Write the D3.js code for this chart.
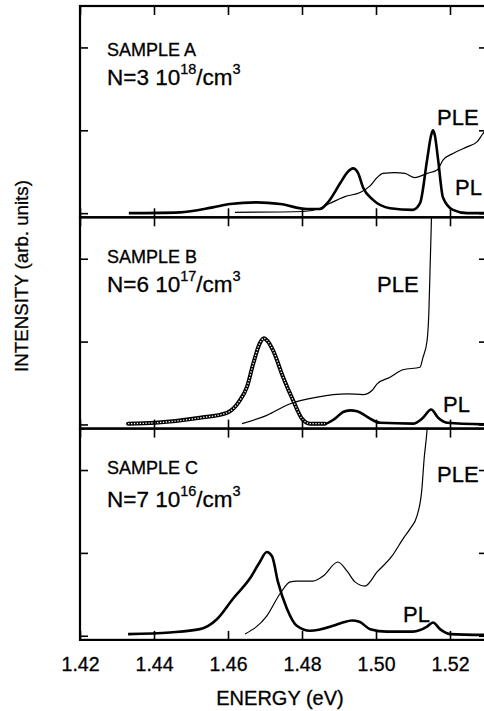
<!DOCTYPE html>
<html><head><meta charset="utf-8">
<script src="https://cdn.jsdelivr.net/npm/d3@7"></script>
<style>
body{margin:0;background:#fff}
svg{display:block}
text{font-family:"Liberation Sans",Arial,Helvetica,sans-serif;fill:#000;stroke:#000;stroke-width:0.3px}
</style>
</head><body>
<svg id="c" width="484" height="711"></svg>
<script>
// ---- tick labels ----
const energyTicks = [1.42, 1.44, 1.46, 1.48, 1.50, 1.52];
const energyTickLabels = ["1.42", "1.44", "1.46", "1.48", "1.50", "1.52"];
const intensityTicks = [0, 1, 2];

// ---- Sample A ----
const plA_E = [1.4332,1.4470,1.4559,1.4605,1.4678,1.4741,1.4814,1.4849,1.4870,1.4903,1.4922,1.4938,1.4951,1.4965,1.4992,1.5038,1.5100,1.5119,1.5138,1.5149,1.5154,1.5159,1.5168,1.5181,1.5208,1.5246,1.5300];
const plA_I = [0.00,0.01,0.07,0.11,0.13,0.11,0.05,0.05,0.13,0.36,0.49,0.54,0.49,0.31,0.16,0.06,0.04,0.12,0.64,0.94,1.00,0.94,0.64,0.19,0.04,0.00,0.00];
const pleA_E = [1.4619,1.4803,1.4849,1.4876,1.4916,1.4957,1.4984,1.5003,1.5019,1.5051,1.5078,1.5105,1.5138,1.5165,1.5181,1.5208,1.5246,1.5273,1.5289,1.5300];
const pleA_I = [0.01,0.02,0.06,0.12,0.20,0.25,0.33,0.43,0.48,0.49,0.48,0.43,0.48,0.52,0.64,0.72,0.80,0.86,0.96,1.02];

// ---- Sample B ----
const plB_E = [1.4330,1.4403,1.4524,1.4597,1.4632,1.4651,1.4668,1.4686,1.4697,1.4708,1.4722,1.4749,1.4776,1.4800,1.4822,1.4862,1.4889,1.4911,1.4930,1.4949,1.4970,1.4984,1.5011,1.5100,1.5127,1.5149,1.5168,1.5192,1.5300];
const plB_I = [0.01,0.02,0.08,0.14,0.29,0.45,0.73,0.98,1.04,1.00,0.89,0.57,0.29,0.07,0.01,0.01,0.07,0.15,0.17,0.16,0.11,0.07,0.02,0.01,0.08,0.18,0.08,0.02,0.00];
const pleB_E = [1.4638,1.4705,1.4768,1.4841,1.4884,1.4922,1.4965,1.4989,1.5003,1.5038,1.5073,1.5119,1.5127,1.5138,1.5143,1.5146,1.5149,1.5151];
const pleB_I = [0.01,0.11,0.25,0.33,0.36,0.37,0.36,0.41,0.49,0.57,0.66,0.69,0.81,1.01,1.37,1.86,2.34,2.70];

// ---- Sample C ----
const plC_E = [1.4330,1.4443,1.4524,1.4570,1.4614,1.4659,1.4686,1.4705,1.4719,1.4735,1.4759,1.4786,1.4822,1.4884,1.4910,1.4935,1.4955,1.4984,1.5030,1.5100,1.5138,1.5154,1.5173,1.5200,1.5300];
const plC_I = [0.02,0.04,0.08,0.20,0.45,0.69,0.89,1.01,0.96,0.65,0.33,0.12,0.06,0.12,0.16,0.185,0.17,0.08,0.05,0.05,0.11,0.16,0.08,0.02,0.01];
const pleC_E = [1.4646,1.4705,1.4741,1.4768,1.4786,1.4830,1.4857,1.4897,1.4922,1.4943,1.4970,1.5003,1.5043,1.5073,1.5092,1.5111,1.5124,1.5130,1.5138,1.5141];
const pleC_I = [0.02,0.24,0.51,0.65,0.66,0.66,0.72,0.89,0.78,0.65,0.60,0.77,0.96,1.17,1.29,1.45,1.77,2.13,2.49,2.70];

const sampleNames = ["SAMPLE A", "SAMPLE B", "SAMPLE C"];
const densityMantissa = ["N=3 10", "N=6 10", "N=7 10"];
const densityExponent = ["18", "17", "16"];

// ---- layout ----
const svg = d3.select("#c");
const left = 80, right = 487, top0 = 6, ph = 211.3;
const x = d3.scaleLinear().domain([1.42, 1.53]).range([left, right]);

const series = [
  {pl: [plA_E, plA_I], ple: [pleA_E, pleA_I]},
  {pl: [plB_E, plB_I], ple: [pleB_E, pleB_I], fit: 1.4875},
  {pl: [plC_E, plC_I], ple: [pleC_E, pleC_I]}
];
const labelLayout = [
  {s: 49.5, n: 79, ple: [437, 119], pl: [455, 189]},
  {s: 46, n: 75, ple: [377, 75], pl: [443, 194.5]},
  {s: 45.5, n: 78.5, ple: [437, 53], pl: [403, 193.5]}
];

series.forEach((p, i) => {
  const t = top0 + i * ph, b = t + ph;
  const y = d3.scaleLinear().domain([-0.05, 2.5]).range([b, t]);
  const g = svg.append("g");
  const cid = "clip" + i;
  svg.append("clipPath").attr("id", cid).append("rect")
    .attr("x", left).attr("y", t).attr("width", right - left).attr("height", ph);
  const pg = g.append("g").attr("clip-path", `url(#${cid})`);
  const line = d3.line().x(d => x(d[0])).y(d => y(d[1])).curve(d3.curveMonotoneX);
  const plPts = p.pl[0].map((e, k) => [e, p.pl[1][k]]);
  const plePts = p.ple[0].map((e, k) => [e, p.ple[1][k]]);
  pg.append("path").attr("d", line(plePts)).attr("fill", "none")
    .attr("stroke", "#000").attr("stroke-width", 1.2).attr("stroke-linejoin", "round");
  pg.append("path").attr("d", line(plPts)).attr("fill", "none")
    .attr("stroke", "#000").attr("stroke-width", 2.6).attr("stroke-linejoin", "round");
  if (p.fit) {
    const fitPts = plPts.filter(d => d[0] <= p.fit);
    pg.append("path").attr("d", line(fitPts)).attr("fill", "none")
      .attr("stroke", "#000").attr("stroke-width", 4).attr("stroke-linecap", "round");
    pg.append("path").attr("d", line(fitPts)).attr("fill", "none")
      .attr("stroke", "#fff").attr("stroke-width", 1.3).attr("stroke-dasharray", "1.3,1.6");
  }
  // axes (inward ticks)
  const ax = (gen, tr) => {
    const a = g.append("g").attr("transform", tr).call(gen);
    a.select(".domain").remove();
    a.selectAll("line").attr("stroke", "#000").attr("stroke-width", 1.6);
    return a;
  };
  ax(d3.axisTop(x).tickValues(energyTicks).tickSize(-9).tickFormat(""), `translate(0,${t})`);
  const bot = ax(d3.axisBottom(x).tickValues(energyTicks).tickSize(-9)
    .tickFormat((d, k) => i === 2 ? energyTickLabels[k] : ""), `translate(0,${b})`);
  if (i === 2) {
    bot.selectAll("text").attr("y", 31).attr("dy", 0).attr("font-size", 19.5)
      .attr("font-family", '"Liberation Sans",Arial,sans-serif').attr("fill", "#000");
  }
  ax(d3.axisLeft(y).tickValues(intensityTicks).tickSize(-8).tickFormat(""), `translate(${left},0)`);
  ax(d3.axisRight(y).tickValues(intensityTicks).tickSize(-8).tickFormat(""), `translate(${right},0)`);
  g.append("rect").attr("x", left).attr("y", t).attr("width", right - left).attr("height", ph)
    .attr("fill", "none").attr("stroke", "#000").attr("stroke-width", 2.2);

  const L = labelLayout[i];
  g.append("text").attr("x", 107).attr("y", t + L.s).attr("font-size", 18).text(sampleNames[i]);
  const nt = g.append("text").attr("x", 107).attr("y", t + L.n).attr("font-size", 22.5);
  nt.append("tspan").text(densityMantissa[i]);
  nt.append("tspan").attr("font-size", 14.5).attr("dy", -11).text(densityExponent[i]);
  nt.append("tspan").attr("dy", 11).text("/cm");
  nt.append("tspan").attr("font-size", 14.5).attr("dy", -11).text("3");
  g.append("text").attr("x", L.ple[0]).attr("y", t + L.ple[1]).attr("font-size", 22).text("PLE");
  g.append("text").attr("x", L.pl[0]).attr("y", t + L.pl[1]).attr("font-size", 22).text("PL");
});

svg.append("text").attr("x", 280).attr("y", 705).attr("text-anchor", "middle")
  .attr("font-size", 20).text("ENERGY (eV)");
svg.append("text").attr("transform", "translate(28,276) rotate(-90)")
  .attr("text-anchor", "middle").attr("font-size", 18.7).text("INTENSITY (arb. units)");
</script>
</body></html>
